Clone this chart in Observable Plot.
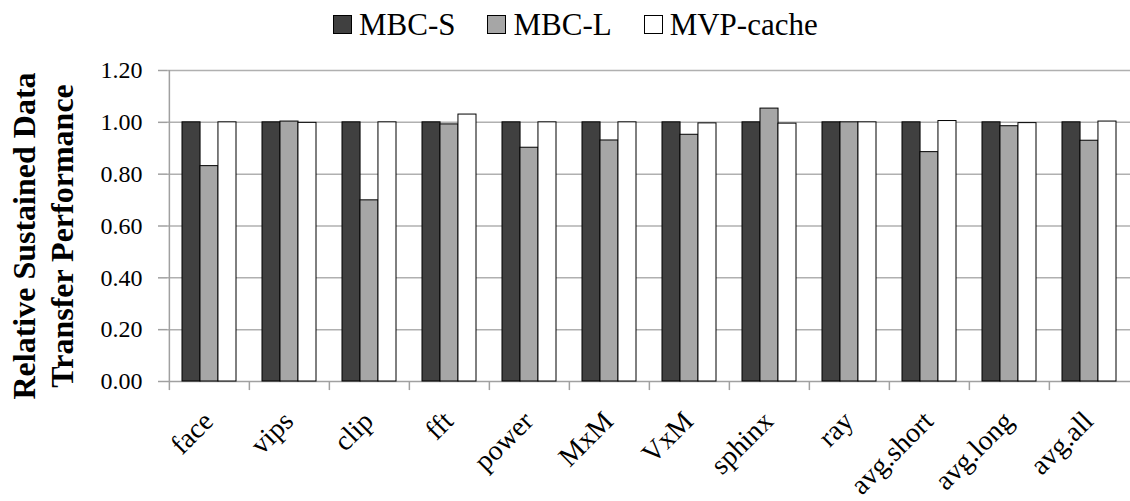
<!DOCTYPE html>
<html><head><meta charset="utf-8">
<script src="https://cdn.jsdelivr.net/npm/d3@7"></script>
<script src="https://cdn.jsdelivr.net/npm/@observablehq/plot@0.6"></script>
<style>
body{margin:0;background:#fff;}
#legend{height:45px;display:flex;justify-content:flex-start;align-items:center;font-family:"Liberation Serif","DejaVu Serif",serif;font-size:31px;color:#000;padding-left:333px;padding-top:4px;box-sizing:border-box;}
#legend .item{display:flex;align-items:center;margin-right:32px;}
#legend .sw{width:19px;height:19px;border:1px solid #000;box-sizing:border-box;margin-right:7px;}
</style></head><body>
<div id="legend"></div>
<div id="chart"></div>
<script>
const categories = ["face","vips","clip","fft","power","MxM","VxM","sphinx","ray","avg.short","avg.long","avg.all"];
const seriesNames = ["MBC-S","MBC-L","MVP-cache"];
const mbcS = [1.000,1.000,1.000,1.000,1.000,1.000,1.000,1.000,1.000,1.000,1.000,1.000];
const mbcL = [0.831,1.003,0.699,0.992,0.902,0.930,0.952,1.053,1.000,0.885,0.985,0.929];
const mvpCache = [1.000,0.998,1.000,1.030,1.000,1.000,0.996,0.995,1.000,1.005,0.997,1.003];
const yTicks = [0,0.2,0.4,0.6,0.8,1.0,1.2];
const colors = ["#404040","#a6a6a6","#ffffff"];
const yTitle = ["Relative Sustained Data","Transfer Performance"];

const seriesValues = [mbcS, mbcL, mvpCache];
const rows = categories.flatMap((c,i)=>seriesNames.map((s,j)=>({category:c, series:s, value:seriesValues[j][i]})));

const font = '"Liberation Serif","DejaVu Serif",serif';
const W = 1130, ML = 167, MR = 0;
const step = (W - ML - MR) / categories.length;
const pad = 0.328;
const band = step * (1 - pad);
const bw = band / seriesNames.length;

// legend
const lg = d3.select("#legend");
seriesNames.forEach((s,j)=>{
  const it = lg.append("div").attr("class","item");
  it.append("div").attr("class","sw").style("background",colors[j]);
  it.append("span").text(s);
});

const plot = Plot.plot({
  width: W, height: 456,
  marginTop: 25, marginBottom: 120, marginLeft: ML, marginRight: MR,
  style: {fontFamily: font, background: "#fff", overflow: "visible"},
  x: {domain: categories, paddingInner: pad, paddingOuter: pad/2, axis: null},
  y: {domain: [0, 1.2], axis: null},
  marks: [
    Plot.ruleY(yTicks.slice(1), {stroke: "#b0b0b0", strokeWidth: 1.5}),
    Plot.ruleY([0], {stroke: "#a0a0a0", strokeWidth: 1.5}),
    Plot.ruleX(categories, {x: d=>d, dx: -step/2, y1: 0, y2: -0.035, stroke: "#a0a0a0", strokeWidth: 1.5}),
    Plot.ruleX([categories[0]], {x: d=>d, dx: -step/2, y1: 0, y2: 1.2, stroke: "#a0a0a0", strokeWidth: 1.5}),
    ...seriesNames.map((s,j)=>Plot.barY(rows.filter(r=>r.series===s), {
      x: "category", y: "value", fill: colors[j], stroke: "#000", strokeWidth: 1,
      insetLeft: bw*j, insetRight: bw*(seriesNames.length-1-j)
    })),
    Plot.axisY({ticks: yTicks, tickFormat: ".2f", tickSize: 9, tickPadding: 16, fontSize: 24, fontFamily: font, stroke: "#a0a0a0", fill: "#000", strokeWidth: 1.5, label: null}),
    Plot.text(categories, {x: d=>d, y: 0, text: d=>d, rotate: -45, textAnchor: "end", lineAnchor: "middle", dx: -1, dy: 35, fontSize: 28, fontFamily: font, fill: "#000"}),
    Plot.text([yTitle[0]], {frameAnchor: "left", textAnchor: "middle", lineAnchor: "middle", dx: 24-ML, dy: 10, rotate: -90, fontSize: 32, fontWeight: "bold", fontFamily: font, fill: "#000"}),
    Plot.text([yTitle[1]], {frameAnchor: "left", textAnchor: "middle", lineAnchor: "middle", dx: 62-ML, dy: 10, rotate: -90, fontSize: 32, fontWeight: "bold", fontFamily: font, fill: "#000"})
  ]
});
document.getElementById("chart").appendChild(plot);
</script>
</body></html>
